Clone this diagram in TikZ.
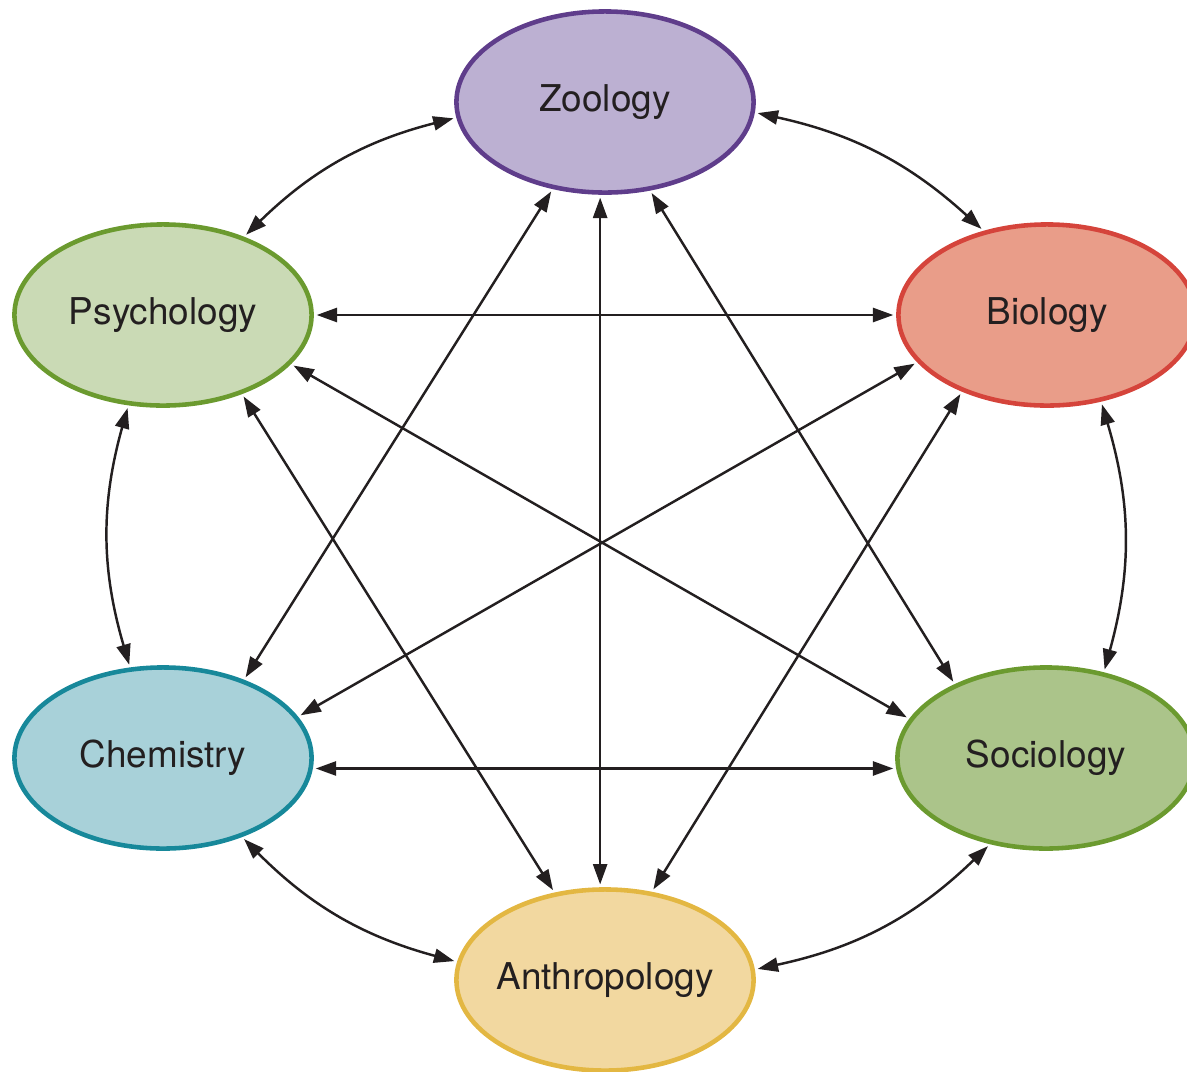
\documentclass[tikz,border=0pt]{standalone}
\usepackage{fontspec}
\setmainfont{TeX Gyre Heros}
\usetikzlibrary{arrows.meta,shapes.geometric}

\definecolor{zoofill}{HTML}{BCB0D2}
\definecolor{zooline}{HTML}{5F3D8B}
\definecolor{psyfill}{HTML}{CADAB5}
\definecolor{psyline}{HTML}{6B9A2F}
\definecolor{biofill}{HTML}{E99D89}
\definecolor{bioline}{HTML}{D5443B}
\definecolor{chemfill}{HTML}{A8D1D9}
\definecolor{chemline}{HTML}{17889A}
\definecolor{socfill}{HTML}{ABC48A}
\definecolor{socline}{HTML}{6B9A2F}
\definecolor{anthfill}{HTML}{F2D8A0}
\definecolor{anthline}{HTML}{E3B742}
\definecolor{inkgray}{HTML}{231F20}

\begin{document}
\begin{tikzpicture}[x=0.01cm,y=-0.01cm,
  field/.style={ellipse, draw, line width=1.3pt, minimum width=2.97cm,
    minimum height=1.81cm, inner ysep=0pt, inner xsep=-8pt,
    font=\fontsize{10.5}{12}\selectfont, text=inkgray},
  link/.style={{Triangle[length=5.8pt,width=4pt]}-{Triangle[length=5.8pt,width=4pt]},
    line width=0.7pt, draw=inkgray, shorten <=0.8pt, shorten >=0.8pt}]
\useasboundingbox (0,0) rectangle (1187,1072);
\clip (0,0) rectangle (1187,1072);

\node[field, fill=zoofill, draw=zooline] (zoo) at (605,102) {Zoology};
\node[field, fill=psyfill, draw=psyline] (psy) at (163,315) {Psychology};
\node[field, fill=biofill, draw=bioline] (bio) at (1047,315) {Biology};
\node[field, fill=chemfill, draw=chemline] (chem) at (163,758) {Chemistry};
\node[field, fill=socfill, draw=socline] (soc) at (1046,758) {Sociology};
\node[field, fill=anthfill, draw=anthline] (anth) at (605,980) {Anthropology};

% neighbours round the ring
\draw[link] (zoo.356) to[bend left=15] (bio.127);
\draw[link] (bio.302) to[bend left=16] (soc.56);
\draw[link] (soc.237) to[bend left=16] (anth.4);
\draw[link] (anth.173) to[bend left=15] (chem.-45);
\draw[link] (chem.110) to[bend left=16] (psy.-111);
\draw[link] (psy.44) to[bend left=15] (zoo.186);

% across the ring
\draw[link] (psy.0) -- (bio.180);
\draw[link] (chem.-4) -- (soc.184);
\draw[link] (zoo.267) -- (anth.93);
\draw[link] (zoo.239) -- (chem.44);
\draw[link] (zoo.297) -- (soc.141);
\draw[link] (psy.-21) -- (soc.164);
\draw[link] (bio.200) -- (chem.17.6);
\draw[link] (psy.-45) -- (anth.120);
\draw[link] (bio.222) -- (anth.62);

\end{tikzpicture}
\end{document}
